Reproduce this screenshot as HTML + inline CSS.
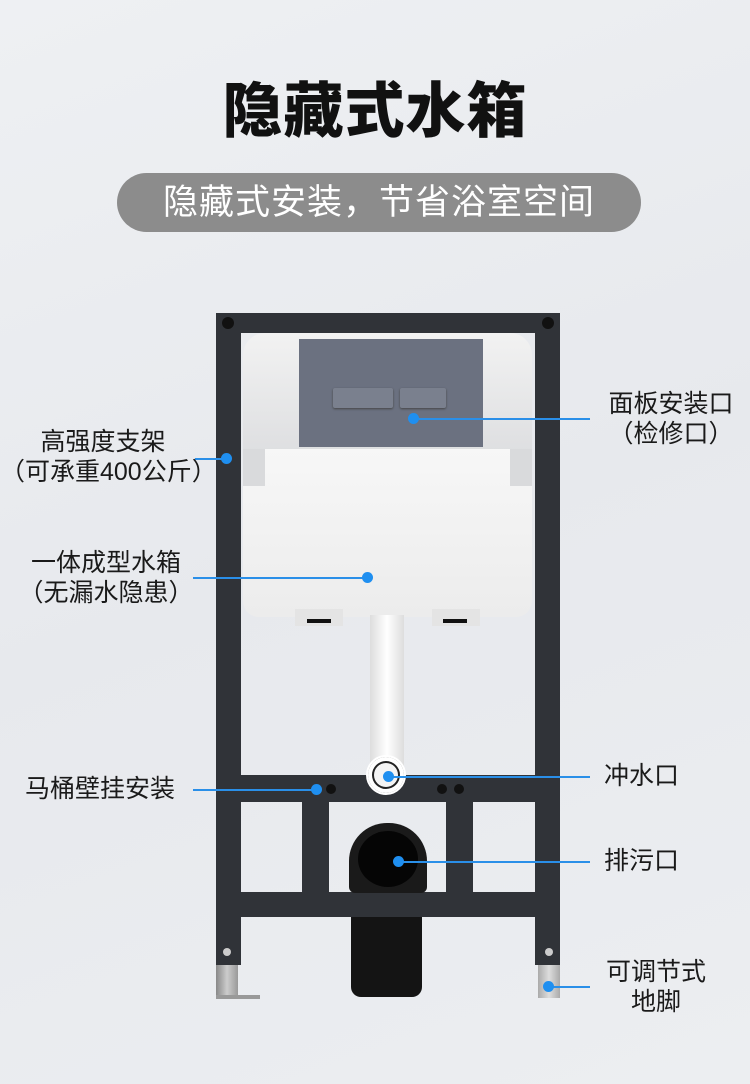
<!DOCTYPE html>
<html><head><meta charset="utf-8"><style>
body{margin:0;width:750px;height:1084px;overflow:hidden;background:linear-gradient(160deg,#eef0f3,#e7e9ed 50%,#eceef1);font-family:"Liberation Sans","Noto Sans CJK SC",sans-serif;position:relative}
.a{position:absolute}
.t{position:absolute;color:#1a1a1a;font-size:25px;line-height:30px;white-space:nowrap}
.ln{position:absolute;height:1.5px;background:#2a8fe8}
.d{position:absolute;width:11px;height:11px;border-radius:50%;background:#1f8ff0;margin:-5.5px 0 0 -5.5px}
.bar{position:absolute;background:#303338}
</style></head><body>
<div class="a" style="left:0;top:76px;width:750px;text-align:center;font-size:60px;font-weight:900;color:#111;line-height:72px;letter-spacing:1px">隐藏式水箱</div>
<div class="a" style="left:117px;top:173px;width:524px;height:59px;border-radius:30px;background:#8c8c8c;color:#fff;font-size:35px;line-height:59px;text-align:center;letter-spacing:1px">隐藏式安装，节省浴室空间</div>

<!-- frame -->
<div class="bar" style="left:216px;top:313px;width:344px;height:20px"></div>
<div class="bar" style="left:216px;top:313px;width:25px;height:652px"></div>
<div class="bar" style="left:535px;top:313px;width:25px;height:652px"></div>
<div class="a" style="left:222px;top:317px;width:12px;height:12px;border-radius:50%;background:#111"></div>
<div class="a" style="left:542px;top:317px;width:12px;height:12px;border-radius:50%;background:#111"></div>
<div class="a" style="left:216px;top:965px;width:22px;height:33px;background:linear-gradient(90deg,#888,#ccc,#999)"></div>
<div class="a" style="left:216px;top:995px;width:44px;height:4px;background:#999"></div>
<div class="a" style="left:538px;top:965px;width:22px;height:33px;background:linear-gradient(90deg,#aaa,#ddd,#aaa)"></div>
<div class="a" style="left:223px;top:948px;width:8px;height:8px;border-radius:50%;background:#ccc"></div>
<div class="a" style="left:545px;top:948px;width:8px;height:8px;border-radius:50%;background:#ccc"></div>

<!-- tank -->
<div class="a" style="left:243px;top:333px;width:289px;height:118px;border-radius:22px 22px 0 0;background:linear-gradient(#f2f2f2,#dedfe1)"></div>
<div class="a" style="left:243px;top:449px;width:289px;height:168px;border-radius:0 0 16px 16px;background:linear-gradient(#f7f7f7,#ececec)"></div>
<div class="a" style="left:243px;top:449px;width:22px;height:37px;background:#d9dadc"></div>
<div class="a" style="left:510px;top:449px;width:22px;height:37px;background:#d9dadc"></div>
<div class="a" style="left:299px;top:339px;width:184px;height:108px;background:#6b7180"></div>
<div class="a" style="left:333px;top:388px;width:60px;height:20px;background:#7a808e;border-radius:2px;box-shadow:0 1px 2px #444"></div>
<div class="a" style="left:400px;top:388px;width:46px;height:20px;background:#7a808e;border-radius:2px;box-shadow:0 1px 2px #444"></div>
<div class="a" style="left:295px;top:609px;width:48px;height:17px;background:#e4e4e4"></div>
<div class="a" style="left:432px;top:609px;width:48px;height:17px;background:#e4e4e4"></div>
<div class="a" style="left:307px;top:619px;width:24px;height:4px;background:#111"></div>
<div class="a" style="left:443px;top:619px;width:24px;height:4px;background:#111"></div>
<!-- pipe -->
<div class="a" style="left:370px;top:615px;width:34px;height:160px;background:linear-gradient(90deg,#ddd,#fff,#ddd)"></div>
<!-- crossbars -->
<div class="bar" style="left:241px;top:775px;width:294px;height:27px"></div>
<div class="bar" style="left:241px;top:892px;width:294px;height:25px"></div>
<div class="bar" style="left:302px;top:802px;width:27px;height:90px"></div>
<div class="bar" style="left:446px;top:802px;width:27px;height:90px"></div>
<div class="a" style="left:326px;top:784px;width:10px;height:10px;border-radius:50%;background:#111"></div>
<div class="a" style="left:437px;top:784px;width:10px;height:10px;border-radius:50%;background:#111"></div>
<div class="a" style="left:454px;top:784px;width:10px;height:10px;border-radius:50%;background:#111"></div>
<div class="a" style="left:366px;top:755px;width:36px;height:36px;border-radius:50%;background:#f4f4f4;border:2px solid #fff;box-shadow:inset 0 0 0 4px #fff,inset 0 0 0 6px #222"></div>
<!-- drain -->
<div class="a" style="left:351px;top:917px;width:71px;height:80px;border-radius:0 0 10px 10px;background:#141414"></div>
<div class="a" style="left:349px;top:823px;width:78px;height:70px;border-radius:38px 38px 6px 6px;background:#1a1a1a"></div>
<div class="a" style="left:358px;top:831px;width:60px;height:56px;border-radius:50%;background:#050505"></div>

<!-- callouts -->
<div class="ln" style="left:195px;top:458px;width:31px"></div><div class="d" style="left:226px;top:458px"></div>
<div class="ln" style="left:413px;top:418px;width:177px"></div><div class="d" style="left:413px;top:418px"></div>
<div class="ln" style="left:193px;top:577px;width:174px"></div><div class="d" style="left:367px;top:577px"></div>
<div class="ln" style="left:193px;top:789px;width:123px"></div><div class="d" style="left:316px;top:789px"></div>
<div class="ln" style="left:388px;top:776px;width:202px"></div><div class="d" style="left:388px;top:776px"></div>
<div class="ln" style="left:398px;top:861px;width:192px"></div><div class="d" style="left:398px;top:861px"></div>
<div class="ln" style="left:548px;top:986px;width:42px"></div><div class="d" style="left:548px;top:986px"></div>

<div class="t" style="left:0;top:427px;width:206px;text-align:center">高强度支架<br>（可承重400公斤）</div>
<div class="t" style="left:0;top:548px;width:212px;text-align:center">一体成型水箱<br>（无漏水隐患）</div>
<div class="t" style="left:25px;top:774px">马桶壁挂安装</div>
<div class="t" style="left:596px;top:389px;width:150px;text-align:center">面板安装口<br>（检修口）</div>
<div class="t" style="left:604px;top:761px">冲水口</div>
<div class="t" style="left:604px;top:846px">排污口</div>
<div class="t" style="left:596px;top:957px;width:120px;text-align:center">可调节式<br>地脚</div>
</body></html>
